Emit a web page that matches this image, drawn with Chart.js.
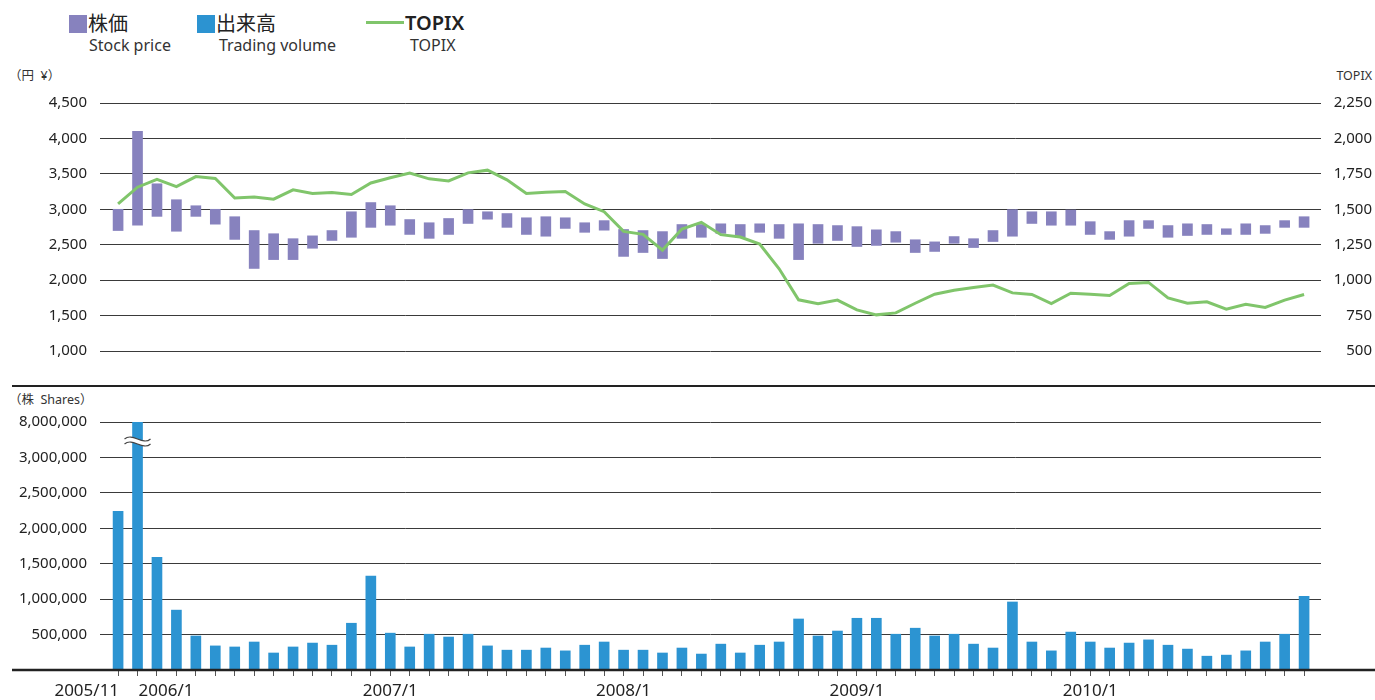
<!DOCTYPE html>
<html>
<head>
<meta charset="utf-8">
<script src="https://cdn.jsdelivr.net/npm/chart.js@4.4.1/dist/chart.umd.min.js"></script>
<style>
  body { margin: 0; background: #fff; width: 1375px; height: 700px; position: relative; overflow: hidden;
         font-family: 'Noto Sans', 'Noto Sans CJK JP', sans-serif; color: #222; }
  canvas { position: absolute; left: 0; }
  #cTop { top: 0; }
  #cVol { top: 386px; }
  .t { position: absolute; white-space: pre; line-height: 1; }
  .jp { font-family: 'Noto Sans CJK JP', sans-serif; font-size: 20px; }
  .en { font-size: 16px; color: #333; }
  .cap { font-size: 12.5px; font-family: 'Noto Sans', 'Noto Sans CJK JP', sans-serif; color: #333; }
  .sq { position: absolute; width: 18px; height: 18px; }
  #divider { position: absolute; left: 12px; top: 385px; width: 1363px; height: 2px; background: #222; }
</style>
</head>
<body>
<!-- legend -->
<div class="sq" style="left:69px;top:15px;background:#8782be"></div>
<div class="t jp" style="left:88px;top:13px">株価</div>
<div class="t en" style="left:89px;top:37px">Stock price</div>
<div class="sq" style="left:197px;top:15px;background:#2c93d1"></div>
<div class="t jp" style="left:216px;top:13px">出来高</div>
<div class="t en" style="left:219px;top:37px">Trading volume</div>
<div style="position:absolute;left:366px;top:21px;width:38px;height:3px;background:#80c56b"></div>
<div class="t" style="left:405px;top:13px;font-size:20px;font-weight:600">TOPIX</div>
<div class="t en" style="left:410px;top:37px">TOPIX</div>
<!-- axis captions -->
<div class="t cap" style="left:9px;top:70px">（円  ¥）</div>
<div class="t cap" style="right:3px;top:70px">TOPIX</div>
<div class="t cap" style="left:9px;top:394px">（株  Shares）</div>

<canvas id="cTop" width="1375" height="386"></canvas>
<canvas id="cVol" width="1375" height="314"></canvas>
<div id="divider"></div>

<script>
// ---- data ----
const months = [
  '2005/11','2005/12',
  '2006/1','2006/2','2006/3','2006/4','2006/5','2006/6','2006/7','2006/8','2006/9','2006/10','2006/11','2006/12',
  '2007/1','2007/2','2007/3','2007/4','2007/5','2007/6','2007/7','2007/8','2007/9','2007/10','2007/11','2007/12',
  '2008/1','2008/2','2008/3','2008/4','2008/5','2008/6','2008/7','2008/8','2008/9','2008/10','2008/11','2008/12',
  '2009/1','2009/2','2009/3','2009/4','2009/5','2009/6','2009/7','2009/8','2009/9','2009/10','2009/11','2009/12',
  '2010/1','2010/2','2010/3','2010/4','2010/5','2010/6','2010/7','2010/8','2010/9','2010/10','2010/11','2010/12'
];
const xTickLabels = ['2005/11', '2006/1', '2007/1', '2008/1', '2009/1', '2010/1'];

// 株価 monthly high / low (円)
const priceHigh = [
  3000, 4100,
  3360, 3135, 3050, 3000, 2895, 2700, 2655, 2585, 2625, 2700, 2965, 3095,
  3050, 2855, 2810, 2870, 2995, 2965, 2940, 2880, 2895, 2880, 2810, 2840,
  2715, 2700, 2685, 2785, 2785, 2795, 2785, 2795, 2785, 2795, 2785, 2770,
  2755, 2710, 2685, 2570, 2540, 2615, 2585, 2700, 2995, 2965, 2965, 2990,
  2825, 2685, 2840, 2840, 2770, 2795, 2785, 2725, 2795, 2770, 2840, 2895
];
const priceLow = [
  2700, 2775,
  2900, 2690, 2900, 2790, 2575, 2165, 2290, 2290, 2450, 2560, 2605, 2745,
  2775, 2645, 2590, 2645, 2800, 2860, 2745, 2645, 2620, 2730, 2675, 2705,
  2335, 2390, 2305, 2590, 2605, 2660, 2605, 2675, 2590, 2290, 2520, 2560,
  2475, 2490, 2535, 2390, 2405, 2520, 2460, 2545, 2620, 2800, 2775, 2775,
  2645, 2575, 2620, 2730, 2605, 2630, 2645, 2645, 2645, 2660, 2745, 2745
];
const topix = [
  1538, 1656,
  1712, 1660, 1731, 1717, 1580, 1587, 1571, 1637, 1611, 1618, 1604, 1686,
  1722, 1755, 1715, 1700, 1757, 1776, 1708, 1611, 1620, 1625, 1538, 1483,
  1344, 1323, 1212, 1361, 1408, 1321, 1304, 1255, 1080, 861, 833, 859,
  790, 755, 769, 837, 901, 929, 948, 965, 910, 899, 835, 908,
  901, 892, 977, 984, 875, 837, 847, 795, 830, 807, 859, 899
];
// 出来高 (株)
const volume = [
  2240000, 8000000,
  1590000, 845000, 480000, 340000, 325000, 395000, 240000, 325000, 380000, 350000, 660000, 1325000,
  520000, 325000, 505000, 465000, 505000, 340000, 280000, 280000, 310000, 270000, 350000, 395000,
  280000, 280000, 240000, 310000, 225000, 365000, 240000, 350000, 395000, 720000, 480000, 550000,
  730000, 730000, 505000, 590000, 480000, 505000, 365000, 310000, 960000, 395000, 270000, 535000,
  395000, 310000, 380000, 425000, 350000, 295000, 195000, 210000, 270000, 395000, 505000, 1040000
];

const PURPLE = '#8782be';
const BLUE = '#2c94d2';
const GREEN = '#80c56b';
const GRID = '#3a3a3a';
const TICK_FONT = { family: "'Noto Sans', sans-serif", size: 15 };

// shared x range so both panels line up
const X_MIN = -0.93, X_MAX = 61.87;
const fmt = v => v.toLocaleString('en-US');

// ---- 株価 / TOPIX ----
new Chart(document.getElementById('cTop'), {
  type: 'bar',
  data: {
    datasets: [
      {
        type: 'line',
        data: topix.map((v, i) => ({ x: i, y: v })),
        yAxisID: 'yT',
        borderColor: GREEN,
        borderWidth: 3,
        pointRadius: 0,
        tension: 0,
        order: 0
      },
      {
        type: 'bar',
        data: priceHigh.map((h, i) => ({ x: i, y: [priceLow[i], h] })),
        yAxisID: 'yP',
        backgroundColor: PURPLE,
        barThickness: 10,
        order: 1
      }
    ]
  },
  options: {
    responsive: false,
    animation: false,
    layout: { padding: { top: 103, bottom: 35, left: 0, right: 3 } },
    plugins: { legend: { display: false }, tooltip: { enabled: false } },
    scales: {
      x: { type: 'linear', min: X_MIN, max: X_MAX, offset: false, display: false },
      yP: {
        position: 'left', min: 1000, max: 4500,
        ticks: { stepSize: 500, padding: 13, color: '#222', font: TICK_FONT, callback: fmt },
        grid: { color: GRID, lineWidth: 1, drawTicks: false },
        border: { display: false },
        afterFit: s => { s.width = 100; }
      },
      yT: {
        position: 'right', min: 500, max: 2250,
        ticks: { stepSize: 250, crossAlign: 'far', color: '#222', font: TICK_FONT, callback: fmt },
        grid: { display: false, drawTicks: false },
        border: { display: false },
        afterFit: s => { s.width = 51; }
      }
    }
  }
});

// ---- 出来高 ----
const VOL_MAX = 3500000;

const volumeExtras = {
  id: 'volumeExtras',
  afterDatasetsDraw(chart) {
    const { ctx, chartArea, scales: { x } } = chart;
    // break mark on bars that run past the axis
    volume.forEach((v, i) => {
      if (v <= VOL_MAX) return;
      const cx = x.getPixelForValue(i);
      const cy = chartArea.top + 17;
      const wave = (dy) => {
        ctx.moveTo(cx - 13, cy + dy);
        ctx.bezierCurveTo(cx - 5, cy + dy - 7, cx + 5, cy + dy + 7, cx + 13, cy + dy);
      };
      ctx.save();
      ctx.beginPath();
      wave(0);
      ctx.lineTo(cx + 13, cy + 5);
      ctx.bezierCurveTo(cx + 5, cy + 12, cx - 5, cy - 2, cx - 13, cy + 5);
      ctx.closePath();
      ctx.fillStyle = '#fff';
      ctx.fill();
      ctx.beginPath();
      wave(0);
      wave(5);
      ctx.strokeStyle = '#444';
      ctx.lineWidth = 1.2;
      ctx.stroke();
      ctx.restore();
    });
  },
  afterDraw(chart) {
    const { ctx, chartArea, scales: { x } } = chart;
    ctx.save();
    // base line runs across the whole width
    ctx.strokeStyle = '#222';
    ctx.lineWidth = 2.5;
    ctx.beginPath();
    ctx.moveTo(12, chartArea.bottom);
    ctx.lineTo(chart.width, chartArea.bottom);
    ctx.stroke();
    // month labels
    ctx.font = "17px 'Noto Sans', sans-serif";
    ctx.fillStyle = '#222';
    ctx.textBaseline = 'middle';
    const y = chartArea.bottom + 21;
    xTickLabels.forEach((lab, k) => {
      const px = x.getPixelForValue(months.indexOf(lab));
      if (k === 0) {
        ctx.textAlign = 'right';
        ctx.fillText(lab, px + 1, y);
      } else if (k === 1) {
        ctx.textAlign = 'center';
        ctx.fillText(lab, px + 9, y);
      } else {
        ctx.textAlign = 'center';
        ctx.fillText(lab, px, y);
      }
    });
    ctx.restore();
  }
};

new Chart(document.getElementById('cVol'), {
  type: 'bar',
  data: {
    datasets: [{
      data: volume.map((v, i) => ({ x: i, y: v })),
      backgroundColor: BLUE,
      barThickness: 10,
      clip: 0
    }]
  },
  options: {
    responsive: false,
    animation: false,
    layout: { padding: { top: 36, bottom: 0, left: 0, right: 54 } },
    plugins: { legend: { display: false }, tooltip: { enabled: false } },
    scales: {
      x: {
        type: 'linear', min: X_MIN, max: X_MAX, offset: false,
        afterBuildTicks: s => { s.ticks = months.map((m, i) => ({ value: i })); },
        ticks: { display: false },
        grid: { drawOnChartArea: false, offset: false, tickLength: 6, color: '#555', lineWidth: 1 },
        border: { display: false },
        afterFit: s => { s.height = 30; }
      },
      y: {
        min: 0, max: VOL_MAX,
        ticks: {
          stepSize: 500000, padding: 13, color: '#222', font: TICK_FONT,
          callback: v => v === 0 ? '' : (v === VOL_MAX ? fmt(Math.max(...volume)) : fmt(v))
        },
        grid: { color: ctx => ctx.tick.value === 0 ? 'rgba(0,0,0,0)' : GRID, lineWidth: 1, drawTicks: false },
        border: { display: false },
        afterFit: s => { s.width = 100; }
      }
    }
  },
  plugins: [volumeExtras]
});
</script>
</body>
</html>
